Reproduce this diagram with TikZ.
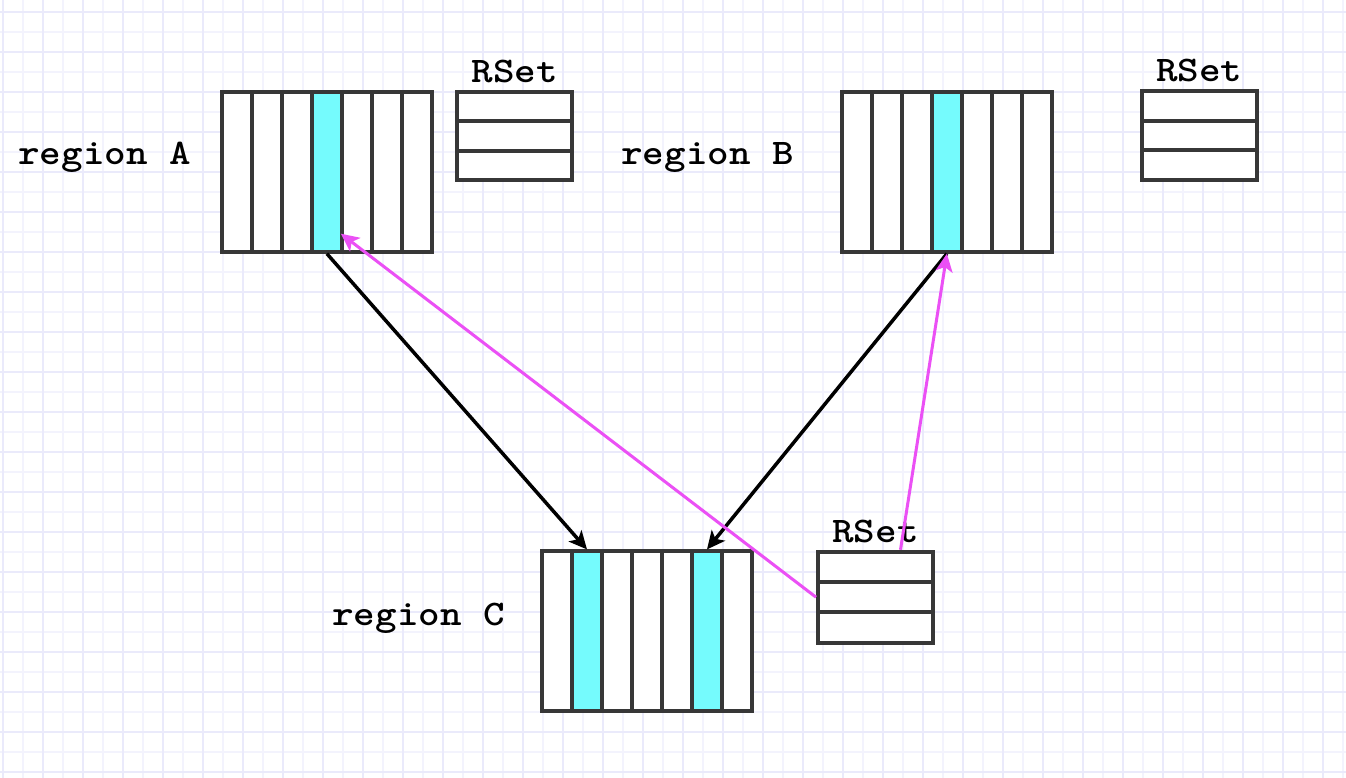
\documentclass[tikz,border=0pt]{standalone}
\usepackage{tikz}
\usetikzlibrary{positioning}
\usetikzlibrary{arrows.meta}

\definecolor{framegray}{RGB}{55,55,55}
\definecolor{cellcyan}{RGB}{117,251,253}
\definecolor{pinkline}{RGB}{235,80,245}
\definecolor{gridmajor}{RGB}{234,234,251}
\definecolor{gridminor}{RGB}{243,243,253}

\newcommand{\wide}[1]{\scalebox{1.14}[1]{#1}}

\tikzset{
  cell/.style={draw=framegray, line width=4pt, fill=white,
               minimum width=30pt, minimum height=160pt, inner sep=0pt},
  hot/.style={fill=cellcyan},
  rsetrow/.style={draw=framegray, line width=4pt, fill=white,
               minimum width=115pt, minimum height=29.5pt, inner sep=0pt},
  lbl/.style={font=\ttfamily\bfseries\fontsize{36}{40}\selectfont, inner sep=0pt},
  ptr/.style={line width=3.5pt, -{Stealth[length=18pt,width=17pt,inset=4.5pt]}}
}

\begin{document}
\begin{tikzpicture}[x=1pt,y=-1pt]
\useasboundingbox (0,0) rectangle (1346,778);
\fill[white] (0,0) rectangle (1346,778);
% grid paper
\foreach \x in {23,63,...,1343} \draw[gridminor, line width=2pt] (\x,0) -- (\x,778);
\foreach \y in {32,72,...,778} \draw[gridminor, line width=2pt] (0,\y) -- (1346,\y);
\foreach \x in {3,43,...,1343} \draw[gridmajor, line width=2pt] (\x,0) -- (\x,778);
\foreach \y in {12,52,...,778} \draw[gridmajor, line width=2pt] (0,\y) -- (1346,\y);

% regions
\matrix[nodes={cell}, column sep=-4pt] at (326.9,171.7) {
 \node(a1){}; & \node(a2){}; & \node(a3){}; & \node[hot](a4){}; &
 \node(a5){}; & \node(a6){}; & \node(a7){}; \\
};
\matrix[nodes={cell}, column sep=-4pt] at (946.9,171.7) {
 \node(b1){}; & \node(b2){}; & \node(b3){}; & \node[hot](b4){}; &
 \node(b5){}; & \node(b6){}; & \node(b7){}; \\
};
\matrix[nodes={cell}, column sep=-4pt] at (647,631.4) {
 \node(c1){}; & \node[hot](c2){}; & \node(c3){}; & \node(c4){}; &
 \node(c5){}; & \node[hot](c6){}; & \node(c7){}; \\
};

% remembered sets
\matrix[nodes={rsetrow}, row sep=-4pt] at (514.8,135.9) {
 \node(ra1){}; \\ \node(ra2){}; \\ \node(ra3){}; \\
};
\matrix[nodes={rsetrow}, row sep=-4pt] at (1199.2,135.5) {
 \node(rb1){}; \\ \node(rb2){}; \\ \node(rb3){}; \\
};
\matrix[nodes={rsetrow, minimum height=30.3pt}, row sep=-4pt] at (875.5,597.2) {
 \node(rc1){}; \\ \node(rc2){}; \\ \node(rc3){}; \\
};

\node[lbl, above=7pt of ra1] (rsetA) {\wide{RSet}};
\node[lbl, above=7pt of rb1] (rsetB) {\wide{RSet}};
\node[lbl, above=7pt of rc1] (rsetC) {\wide{RSet}};

\node[lbl, anchor=base east] (labA) at (191,165) {\wide{region A}};
\node[lbl, anchor=base east] (labB) at (794,165) {\wide{region B}};
\node[lbl, anchor=base east] (labC) at (505,625) {\wide{region C}};

% references
\draw[ptr] (a4.south) -- (c2.north);
\draw[ptr] (b4.south) -- (c6.north);
\draw[ptr, pinkline, line width=3pt] (rc2.west) -- ([xshift=-3pt,yshift=20pt]a4.south east);
\draw[ptr, pinkline, line width=3pt] ([xshift=25pt]rc1.north) -- (b4.south);
\end{tikzpicture}
\end{document}
